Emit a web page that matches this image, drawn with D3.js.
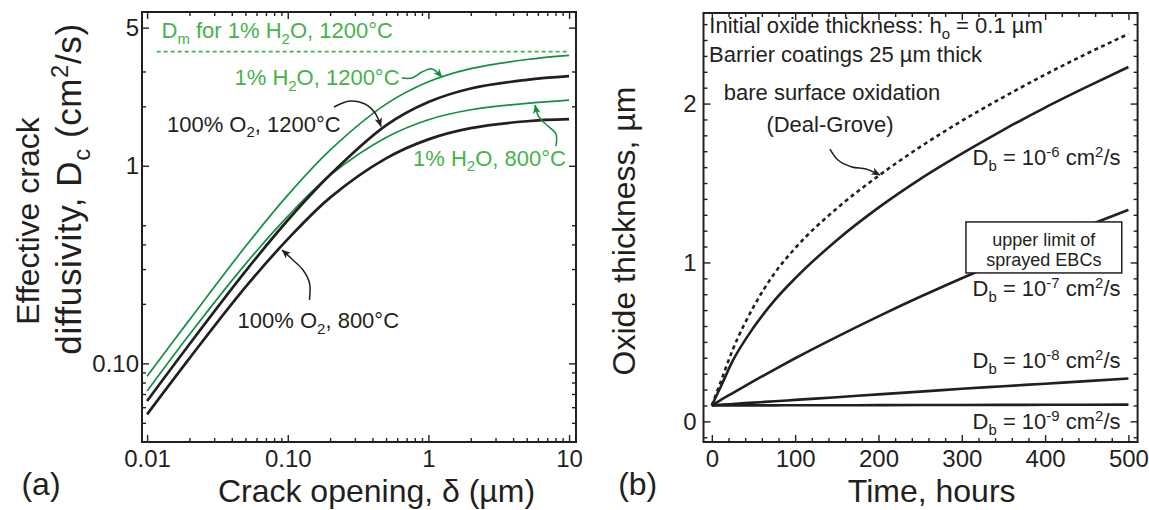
<!DOCTYPE html>
<html>
<head>
<meta charset="utf-8">
<script src="https://cdn.jsdelivr.net/npm/d3@7"></script>
<style>
  body { margin: 0; background: #fff; }
  svg text { font-family: "Liberation Sans", Arial, Helvetica, sans-serif; }
</style>
</head>
<body>
<svg id="fig" width="1149" height="510"></svg>
<script>
// ---------------- panel (a): effective crack diffusivity ----------------
const crackOpening = [0.01, 0.02, 0.05, 0.1, 0.2, 0.5, 1, 2, 5, 10];
const dcH2O1200 = [0.086, 0.166, 0.39, 0.71, 1.20, 2.05, 2.66, 3.10, 3.45, 3.62];
const dcO21200  = [0.0645, 0.125, 0.292, 0.53, 0.90, 1.60, 2.10, 2.46, 2.72, 2.84];
const dcH2O800  = [0.0724, 0.140, 0.318, 0.555, 0.895, 1.39, 1.71, 1.92, 2.07, 2.15];
const dcO2800   = [0.0552, 0.106, 0.243, 0.425, 0.69, 1.09, 1.36, 1.55, 1.68, 1.72];
const dmH2O1200 = 3.78;                 // gas-phase limit, 1% H2O at 1200 C
const dmSpan = [0.0117, 10];

const crackTicksX = [0.01, 0.1, 1, 10];
const crackTickLabelsX = ["0.01", "0.10", "1", "10"];
const crackMinorX = [0.02,0.03,0.04,0.05,0.06,0.07,0.08,0.09, 0.2,0.3,0.4,0.5,0.6,0.7,0.8,0.9, 2,3,4,5,6,7,8,9];
const diffTicksY = [0.1, 1, 5];
const diffTickLabelsY = ["0.10", "1", "5"];
const diffMinorY = [0.05, 0.06, 0.07, 0.08, 0.09, 0.2, 0.3, 0.4, 0.5, 2, 3];

// ---------------- panel (b): oxide thickness vs time ----------------
const hoursDealGrove = [0, 5, 10, 25, 50, 75, 100, 150, 200, 250, 300, 350, 400, 450, 500];
const thickDealGrove = [0.10, 0.17, 0.24, 0.45, 0.72, 0.93, 1.09, 1.34, 1.545, 1.727, 1.891, 2.041, 2.182, 2.314, 2.438];
const hoursBarrier = [0, 5, 10, 25, 50, 75, 100, 150, 200, 250, 300, 350, 400, 450, 500];
const thickDb6 = [0.10, 0.155, 0.21, 0.38, 0.59, 0.76, 0.90, 1.14, 1.345, 1.525, 1.685, 1.835, 1.975, 2.105, 2.23];
const thickDb7 = [0.10, 0.116, 0.132, 0.178, 0.253, 0.326, 0.397, 0.532, 0.661, 0.784, 0.901, 1.014, 1.123, 1.229, 1.331];
const thickDb8 = [0.10, 0.102, 0.104, 0.109, 0.118, 0.126, 0.135, 0.152, 0.17, 0.187, 0.205, 0.221, 0.237, 0.253, 0.27];
const thickDb9 = [0.100, 0.1000, 0.1001, 0.1003, 0.1005, 0.1008, 0.1010, 0.1015, 0.1020, 0.1025, 0.1030, 0.1035, 0.1040, 0.1045, 0.1050];

const timeTicks = [0, 100, 200, 300, 400, 500];
const timeMinor = d3.range(0, 520, 20).filter(v => v % 100 !== 0);
const thickTicks = [0, 1, 2];
const thickMinor = d3.range(-1, 26).map(v => v / 10).filter(v => Math.abs(v - Math.round(v)) > 1e-9);

// ---------------- styling ----------------
const INK = "#231f20";
const GREEN_LINE = "#138f42";
const GREEN_TEXT = "#45b34b";
const FONT = "'Liberation Sans', Arial, Helvetica, sans-serif";

const svg = d3.select("#fig");
const defs = svg.append("defs");
function addMarker(id, color) {
  defs.append("marker")
    .attr("id", id).attr("viewBox", "0 0 10 10")
    .attr("refX", 9.5).attr("refY", 5)
    .attr("markerWidth", 9).attr("markerHeight", 9)
    .attr("markerUnits", "userSpaceOnUse").attr("orient", "auto")
    .append("path").attr("d", "M0,0.8 L10,5 L0,9.2 L2.5,5 z").attr("fill", color);
}
addMarker("headInk", INK);
addMarker("headGreen", GREEN_LINE);

// text with sub/superscript pieces: parts = ["plain", ["x","sub"], ["2","sup"], ...]
function rich(parent, parts, size, color) {
  const t = parent.append("text").attr("font-size", size).attr("fill", color);
  let shift = 0;
  parts.forEach(p => {
    const [s, kind] = Array.isArray(p) ? p : [p, ""];
    const target = kind === "sub" ? 0.26 * size : kind === "sup" ? -0.36 * size : 0;
    t.append("tspan")
      .attr("dy", target - shift)
      .attr("font-size", kind ? size * 0.68 : size)
      .text(s);
    shift = target;
  });
  return t;
}

function axes(g, x, y, o) {
  const [x0, x1] = x.range();
  const [y0, y1] = y.range();
  const style = (sel, size) => {
    sel.select(".domain").remove();
    sel.selectAll("line").attr("stroke", INK).attr("stroke-width", 1.4);
    sel.selectAll("text").attr("fill", INK).attr("font-size", size).attr("font-family", FONT);
  };
  const put = (axis, tx, ty, vals, len, fmt, pad) => {
    const a = axis.tickValues(vals).tickSize(-len).tickPadding(pad || 0);
    a.tickFormat(fmt || "");
    g.append("g").attr("transform", `translate(${tx},${ty})`).call(a).call(s => style(s, 24));
  };
  // minor ticks on all four sides
  put(d3.axisBottom(x), 0, y0, o.xMinor, 4);
  put(d3.axisTop(x), 0, y1, o.xMinor, 4);
  put(d3.axisLeft(y), x0, 0, o.yMinor, 4);
  put(d3.axisRight(y), x1, 0, o.yMinor, 4);
  // major ticks with labels on bottom and left
  put(d3.axisBottom(x), 0, y0, o.xMajor, 7, (d, i) => o.xLabels[i], 8);
  put(d3.axisTop(x), 0, y1, o.xMajor, 7);
  put(d3.axisLeft(y), x0, 0, o.yMajor, 7, (d, i) => o.yLabels[i], o.yPad);
  put(d3.axisRight(y), x1, 0, o.yMajor, 7);
  g.append("rect")
    .attr("x", x0).attr("y", y1).attr("width", x1 - x0).attr("height", y0 - y1)
    .attr("fill", "none").attr("stroke", INK).attr("stroke-width", 2);
}

// ================= panel (a) =================
const xA = d3.scaleLog().domain([0.0092, 11.2]).range([142, 576]);
const yA = d3.scaleLog().domain([0.04, 6]).range([442, 12]);
const gA = svg.append("g");

const lineA = d3.line().x(d => xA(d[0])).y(d => yA(d[1])).curve(d3.curveCatmullRom.alpha(0.5));
const seriesA = [
  { v: dcH2O1200, color: GREEN_LINE, w: 1.7 },
  { v: dcH2O800,  color: GREEN_LINE, w: 1.7 },
  { v: dcO21200,  color: INK, w: 2.7 },
  { v: dcO2800,   color: INK, w: 2.7 }
];
seriesA.forEach(s => {
  gA.append("path")
    .datum(crackOpening.map((c, i) => [c, s.v[i]]))
    .attr("d", lineA).attr("fill", "none")
    .attr("stroke", s.color).attr("stroke-width", s.w);
});
gA.append("line")
  .attr("x1", xA(dmSpan[0])).attr("x2", xA(dmSpan[1]))
  .attr("y1", yA(dmH2O1200)).attr("y2", yA(dmH2O1200))
  .attr("stroke", GREEN_TEXT).attr("stroke-width", 1.6).attr("stroke-dasharray", "4,3");

axes(gA, xA, yA, {
  xMajor: crackTicksX, xLabels: crackTickLabelsX, xMinor: crackMinorX,
  yMajor: diffTicksY, yLabels: diffTickLabelsY, yMinor: diffMinorY, yPad: 3
});

// annotations (positions in data units)
function labelA(parts, at, color) {
  rich(gA, parts, 22, color).attr("x", xA(at[0])).attr("y", yA(at[1]));
}
labelA(["D", ["m", "sub"], " for 1% H", ["2", "sub"], "O, 1200°C"], [0.01266, 4.43], GREEN_TEXT);
labelA(["1% H", ["2", "sub"], "O, 1200°C"], [0.0418, 2.56], GREEN_TEXT);
labelA(["100% O", ["2", "sub"], ", 1200°C"], [0.01385, 1.487], INK);
labelA(["1% H", ["2", "sub"], "O, 800°C"], [0.777, 1.0], GREEN_TEXT);
labelA(["100% O", ["2", "sub"], ", 800°C"], [0.044, 0.1504], INK);

const arrowA = d3.line().x(d => xA(d[0])).y(d => yA(d[1])).curve(d3.curveCatmullRom.alpha(0.5));
function pointer(g, line, pts, color, head) {
  g.append("path").datum(pts).attr("d", line).attr("fill", "none")
    .attr("stroke", color).attr("stroke-width", 1.5).attr("marker-end", `url(#${head})`);
}
pointer(gA, arrowA, [[0.647, 2.78], [0.764, 2.78], [0.90, 2.98], [1.061, 3.09], [1.249, 2.80]], GREEN_LINE, "headGreen");
pointer(gA, arrowA, [[0.2132, 1.983], [0.2771, 2.127], [0.354, 2.054], [0.4172, 1.849], [0.46, 1.58]], INK, "headInk");
pointer(gA, arrowA, [[8.07, 1.259], [8.07, 1.448], [7.08, 1.589], [6.11, 1.765], [5.73, 2.03]], GREEN_LINE, "headGreen");
pointer(gA, arrowA, [[0.1427, 0.2092], [0.1427, 0.255], [0.1284, 0.2968], [0.109, 0.3335], [0.091, 0.375]], INK, "headInk");

// axis titles (a)
gA.append("text").attr("transform", "translate(38.5,221) rotate(-90)")
  .attr("text-anchor", "middle").attr("font-size", 32).attr("fill", INK).text("Effective crack");
rich(gA.append("g").attr("transform", "translate(80.7,189) rotate(-90)"),
  ["diffusivity, D", ["c", "sub"], " (cm", ["2", "sup"], "/s)"], 35, INK)
  .attr("text-anchor", "middle").attr("letter-spacing", 0.6);
gA.append("text").attr("x", 376.5).attr("y", 502).attr("text-anchor", "middle")
  .attr("font-size", 32).attr("fill", INK).text("Crack opening, δ (µm)");
gA.append("text").attr("x", 41).attr("y", 495).attr("text-anchor", "middle")
  .attr("font-size", 32).attr("fill", INK).text("(a)");

// ================= panel (b) =================
const xB = d3.scaleLinear().domain([-10, 511]).range([703.5, 1137.6]);
const yB = d3.scaleLinear().domain([-0.13, 2.57]).range([442, 13]);
const gB = svg.append("g");
const lineB = d3.line().x(d => xB(d[0])).y(d => yB(d[1])).curve(d3.curveMonotoneX);

gB.append("path").datum(hoursDealGrove.map((t, i) => [t, thickDealGrove[i]]))
  .attr("d", lineB).attr("fill", "none").attr("stroke", INK)
  .attr("stroke-width", 2.6).attr("stroke-dasharray", "4,3.5");
[thickDb6, thickDb7, thickDb8, thickDb9].forEach(v => {
  gB.append("path").datum(hoursBarrier.map((t, i) => [t, v[i]]))
    .attr("d", lineB).attr("fill", "none").attr("stroke", INK).attr("stroke-width", 2.6);
});

axes(gB, xB, yB, {
  xMajor: timeTicks, xLabels: timeTicks.map(String), xMinor: timeMinor,
  yMajor: thickTicks, yLabels: thickTicks.map(String), yMinor: thickMinor, yPad: 7
});

// sprayed-coating limit box (covers the 1e-7 curve where it passes)
const boxT = [305, 492], boxH = [0.934, 1.255];
gB.append("rect")
  .attr("x", xB(boxT[0])).attr("y", yB(boxH[1]))
  .attr("width", xB(boxT[1]) - xB(boxT[0])).attr("height", yB(boxH[0]) - yB(boxH[1]))
  .attr("fill", "#fff").attr("stroke", INK).attr("stroke-width", 1.5);
const boxMid = (boxT[0] + boxT[1]) / 2;
gB.append("text").attr("x", xB(boxMid)).attr("y", yB(1.105)).attr("text-anchor", "middle")
  .attr("font-size", 18).attr("fill", INK).text("upper limit of");
gB.append("text").attr("x", xB(boxMid)).attr("y", yB(0.979)).attr("text-anchor", "middle")
  .attr("font-size", 18).attr("fill", INK).text("sprayed EBCs");

function labelB(parts, at, anchor) {
  rich(gB, parts, 22, INK).attr("x", xB(at[0])).attr("y", yB(at[1])).attr("text-anchor", anchor || "start");
}
labelB(["Initial oxide thickness: h", ["o", "sub"], " = 0.1 µm"], [-3.0, 2.445]);
labelB(["Barrier coatings 25 µm thick"], [-3.4, 2.262]);
labelB(["bare surface oxidation"], [144.2, 2.022], "middle");
labelB(["(Deal-Grove)"], [141.8, 1.821], "middle");
const dbLabels = [
  { exp: "-6", h: 1.613 },
  { exp: "-7", h: 0.789 },
  { exp: "-8", h: 0.336 },
  { exp: "-9", h: -0.048 }
];
dbLabels.forEach(d => {
  labelB(["D", ["b", "sub"], " = 10", [d.exp, "sup"], " cm", ["2", "sup"], "/s"], [490.5, d.h], "end");
});
pointer(gB, d3.line().x(d => xB(d[0])).y(d => yB(d[1])).curve(d3.curveCatmullRom.alpha(0.5)),
  [[141.8, 1.714], [151.4, 1.645], [168.2, 1.601], [185.0, 1.588], [201.8, 1.55]], INK, "headInk");

// axis titles (b)
gB.append("text").attr("transform", "translate(635,231) rotate(-90)")
  .attr("text-anchor", "middle").attr("font-size", 32).attr("fill", INK).text("Oxide thickness, µm");
gB.append("text").attr("x", 931.7).attr("y", 502).attr("text-anchor", "middle")
  .attr("font-size", 32).attr("fill", INK).text("Time, hours");
gB.append("text").attr("x", 637.7).attr("y", 495).attr("text-anchor", "middle")
  .attr("font-size", 32).attr("fill", INK).text("(b)");
</script>
</body>
</html>
